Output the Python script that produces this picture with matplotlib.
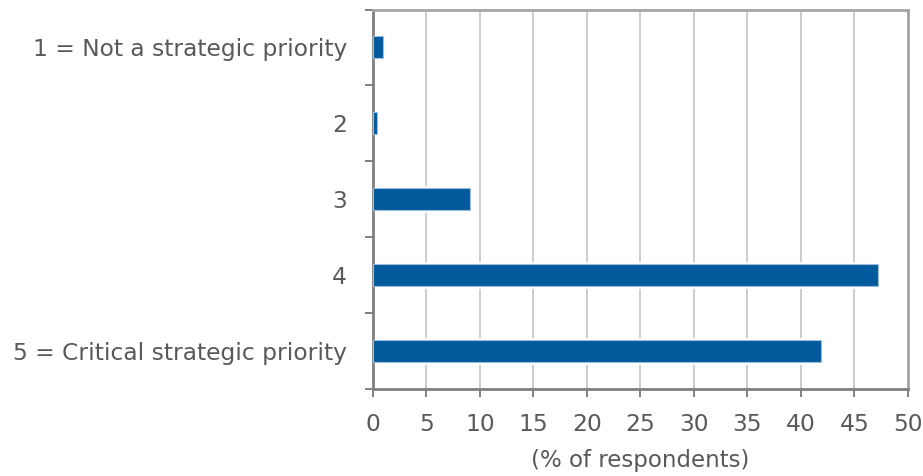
import matplotlib.pyplot as plt
from matplotlib.ticker import MultipleLocator, FixedLocator

# survey answers, listed top to bottom
categories = ["1 = Not a strategic priority", "2", "3", "4",
              "5 = Critical strategic priority"]
share = [0.9, 0.4, 9.1, 47.2, 41.9]

bar_blue = "#005a9c"
text_grey = "#595959"

plt.rcParams["font.family"] = ["DejaVu Sans"]

fig = plt.figure(figsize=(9.23, 4.76), dpi=100)
ax = fig.add_axes([0.4041, 0.1828, 0.5796, 0.7972])

ypos = list(range(len(categories)))
# white halo first so the grid breaks around each bar
ax.barh(ypos, share, height=0.29, color=bar_blue, edgecolor="white",
        linewidth=3.5, zorder=2)
ax.barh(ypos, share, height=0.29, color=bar_blue, edgecolor="#9dbddc",
        linewidth=0.8, zorder=3)

ax.set_xlim(0, 50)
ax.set_ylim(len(categories) - 0.5, -0.5)
ax.xaxis.set_major_locator(MultipleLocator(5))
ax.grid(axis="x", color="#cccccc", linewidth=1.4, zorder=0)
ax.set_axisbelow(True)

ax.set_yticks(ypos)
ax.set_yticklabels(categories)
ax.yaxis.set_minor_locator(FixedLocator([i - 0.5 for i in range(len(categories) + 1)]))
ax.tick_params(axis="y", which="major", length=0, pad=18.5,
               labelsize=16.8, labelcolor=text_grey)
ax.tick_params(axis="y", which="minor", length=6, width=1.4, color="#808080")
ax.tick_params(axis="x", which="major", length=6, width=1.4, color="#808080",
               pad=11.5, labelsize=16.8, labelcolor=text_grey)

ax.set_xlabel("(% of respondents)", fontsize=16.5, color=text_grey, labelpad=9)

for side in ["left", "bottom"]:
    ax.spines[side].set_color("#7f7f7f")
    ax.spines[side].set_linewidth(2)
for side in ["top", "right"]:
    ax.spines[side].set_color("#a6a6a6")
    ax.spines[side].set_linewidth(2)

fig.savefig("out.png", dpi=100)
